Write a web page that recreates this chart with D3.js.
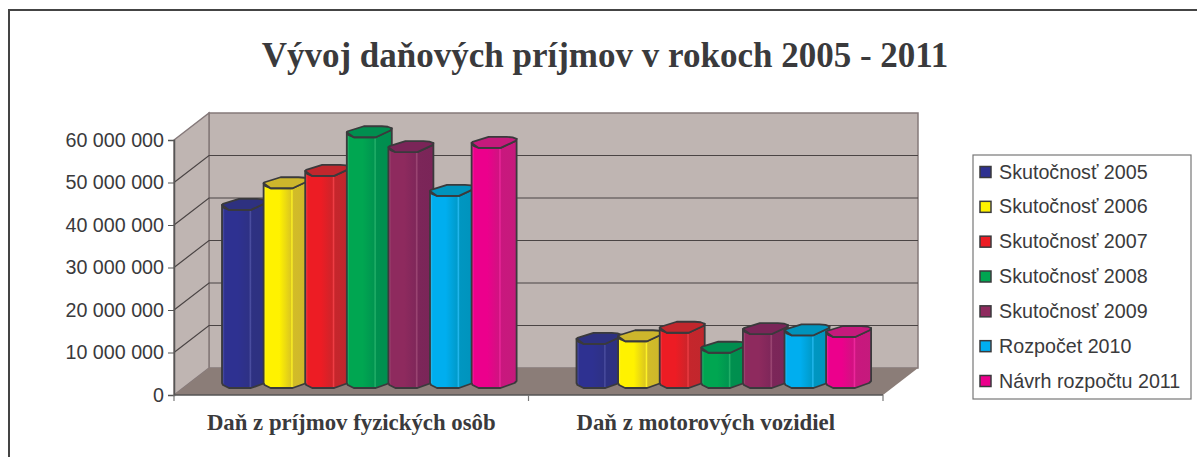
<!DOCTYPE html>
<html>
<head>
    <meta charset="utf-8"/>
    <script type="text/javascript" src="https://d3js.org/d3.v7.min.js"></script>
    <style>
        html, body { margin: 0; padding: 0; background: #fff; overflow: hidden; }
    </style>
</head>
<body>
<svg id="chart" width="1197" height="457"></svg>
<script>
    let categories = ["Daň z príjmov fyzických osôb", "Daň z motorových vozidiel"];
    let series = ["Skutočnosť 2005", "Skutočnosť 2006", "Skutočnosť 2007", "Skutočnosť 2008",
                  "Skutočnosť 2009", "Rozpočet 2010", "Návrh rozpočtu 2011"];
    let osob = [41900000, 47000000, 49900000, 59000000, 55500000, 45200000, 56500000];
    let vozidla = [10400000, 11000000, 13000000, 8300000, 12700000, 12400000, 12000000];
    let yTicks = [0, 10000000, 20000000, 30000000, 40000000, 50000000, 60000000];
    let colors = ["#2e3191", "#fff200", "#ed1c24", "#00a651", "#8e2a5e", "#00aeef", "#ec008c"];
    let capColors = ["#2e3180", "#cdb62c", "#c1272d", "#008e4f", "#7a2558", "#0093bc", "#c51a7c"];

    let values = [osob, vozidla];
    let svg = d3.select("#chart");
    let ink = "#3a3a3c";

    // plot box, the back wall is the front shifted by depth
    let plotL = 174, plotR = 883, plotB = 395, plotT = 140;
    let dx = 35, dy = -27;

    let y = d3.scaleLinear().domain([0, 60000000]).range([plotB, plotT]);
    let x0 = d3.scaleBand().domain(categories).range([plotL, plotR]);
    let x1 = d3.scaleBand().domain(series).range([48, 48 + 7 * 41.6]);

    // outer frame runs off the right and bottom of the picture
    svg.append("rect").attr("x", 9).attr("y", 10).attr("width", 1300).attr("height", 600)
        .attr("fill", "#fff").attr("stroke", "#444").attr("stroke-width", 2);

    svg.append("text").text("Vývoj daňových príjmov v rokoch 2005 - 2011")
        .attr("x", 605).attr("y", 67).attr("text-anchor", "middle")
        .style("font-family", "'Liberation Serif'").style("font-weight", "bold")
        .style("font-size", "35px").attr("fill", ink);

    // walls
    let pts = a => a.map(p => p.join(",")).join(" ");
    svg.append("polygon")
        .attr("points", pts([[plotL + dx, plotT + dy], [plotR + dx, plotT + dy], [plotR + dx, plotB + dy], [plotL + dx, plotB + dy]]))
        .attr("fill", "#bfb5b2").attr("stroke", "#85797a").attr("stroke-width", 1.5);
    svg.append("polygon")
        .attr("points", pts([[plotL, plotT], [plotL + dx, plotT + dy], [plotL + dx, plotB + dy], [plotL, plotB]]))
        .attr("fill", "#bfb5b2").attr("stroke", "#85797a").attr("stroke-width", 1.5);
    svg.append("polygon")
        .attr("points", pts([[plotL, plotB], [plotL + dx, plotB + dy], [plotR + dx, plotB + dy], [plotR, plotB]]))
        .attr("fill", "#8b7d78");

    // gridlines on the side wall and back wall
    yTicks.slice(1, -1).forEach(function(t) {
        svg.append("path")
            .attr("d", "M" + plotL + " " + y(t) + "L" + (plotL + dx) + " " + (y(t) + dy) + "H" + (plotR + dx))
            .attr("fill", "none").attr("stroke", "#4a4444").attr("stroke-width", 1.2);
    });

    // axes
    let yAxis = d3.axisLeft(y).tickValues(yTicks).tickSize(6).tickPadding(4)
        .tickFormat(d => d3.format(",")(d).replace(/,/g, " "));
    let gy = svg.append("g").attr("transform", "translate(" + plotL + ",0)").call(yAxis);
    gy.selectAll("text").style("font-family", "'Liberation Sans'").style("font-size", "19.7px").attr("fill", ink);
    gy.selectAll("line").attr("stroke", "#555");
    gy.select(".domain").attr("stroke", "#555").attr("stroke-width", 1.5);

    svg.append("line").attr("x1", plotL).attr("x2", plotR).attr("y1", plotB).attr("y2", plotB)
        .attr("stroke", "#555").attr("stroke-width", 1.5);
    [plotL, plotL + x0.bandwidth(), plotR].forEach(function(t) {
        svg.append("line").attr("x1", t).attr("x2", t).attr("y1", plotB).attr("y2", plotB + 6)
            .attr("stroke", "#777").attr("stroke-width", 1.2);
    });

    categories.forEach(function(c) {
        svg.append("text").text(c)
            .attr("x", x0(c) + x0.bandwidth() / 2).attr("y", 430).attr("text-anchor", "middle")
            .style("font-family", "'Liberation Serif'").style("font-weight", "bold")
            .style("font-size", "22.8px").attr("fill", ink);
    });

    // one horizontal gradient per colour, light stripes at the facet edges
    let defs = svg.append("defs");
    colors.forEach(function(col, i) {
        let side = d3.interpolateRgb(col, capColors[i]);
        let lite = d3.interpolateRgb(col, "#fff");
        let g = defs.append("linearGradient").attr("id", "bar" + i);
        [[0, col], [0.03, lite(0.12)], [0.06, col], [0.35, col], [0.6, side(0.7)],
         [0.63, lite(0.15)], [0.66, side(0.9)], [1, capColors[i]]].forEach(function(s) {
            g.append("stop").attr("offset", s[0]).attr("stop-color", s[1]);
        });
    });

    // octagonal columns, later ones sit over the earlier ones
    let base = plotB - 7;
    let groups = svg.selectAll(".group").data(categories).join("g")
        .attr("class", "group")
        .attr("transform", d => "translate(" + x0(d) + ",0)");

    groups.each(function(c, ci) {
        let g = d3.select(this);
        series.forEach(function(s, i) {
            let xb = x1(s);
            let t = y(values[ci][i]) - 7;
            g.append("polygon")
                .attr("points", pts([[xb, t - 5], [xb + 2, t - 2], [xb + 7, t], [xb + 29, t], [xb + 44, t - 7], [xb + 45, t - 9],
                    [xb + 45, base - 7], [xb + 43, base - 5], [xb + 29, base], [xb + 7, base], [xb + 1, base - 3], [xb, base - 5]]))
                .attr("fill", "url(#bar" + i + ")")
                .attr("stroke", "#3a3a3c").attr("stroke-width", 1.8).attr("stroke-linejoin", "round");
            g.append("polygon")
                .attr("points", pts([[xb, t - 5], [xb + 7, t], [xb + 29, t], [xb + 44, t - 7], [xb + 45, t - 9],
                    [xb + 41, t - 10.5], [xb + 35, t - 11], [xb + 17, t - 11], [xb + 1, t - 6]]))
                .attr("fill", capColors[i])
                .attr("stroke", "#3a3a3c").attr("stroke-width", 1.8).attr("stroke-linejoin", "round");
        });
    });

    // legend
    svg.append("rect").attr("x", 973).attr("y", 155).attr("width", 218).attr("height", 244)
        .attr("fill", "#fff").attr("stroke", "#777").attr("stroke-width", 1.2);
    let ly = d3.scalePoint().domain(series).range([172, 381]);
    series.forEach(function(s, i) {
        svg.append("rect").attr("x", 980).attr("y", ly(s) - 5.5).attr("width", 11).attr("height", 11)
            .attr("fill", colors[i]).attr("stroke", "#3a3a3c").attr("stroke-width", 1.5);
        svg.append("text").text(s).attr("x", 999).attr("y", ly(s) + 6.5)
            .style("font-family", "'Liberation Sans'").style("font-size", "19.7px").attr("fill", ink);
    });
</script>
</body>
</html>
